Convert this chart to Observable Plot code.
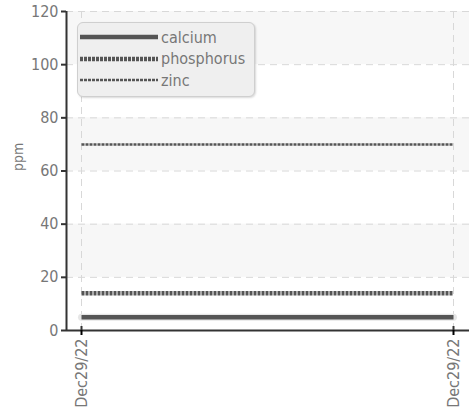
<!DOCTYPE html>
<html><head><meta charset="utf-8">
<script src="https://cdn.jsdelivr.net/npm/d3@7"></script>
<script src="https://cdn.jsdelivr.net/npm/@observablehq/plot@0.6"></script>
<style>
body{margin:0;background:#fff;}
#wrap{position:relative;width:476px;height:409px;font-family:"Liberation Sans Narrow","DejaVu Sans Condensed",sans-serif;}
#legend{position:absolute;left:77px;top:22px;width:176px;height:73px;background:#efefef;border:1px solid #cfcfcf;border-radius:6px;box-shadow:1px 1px 2px rgba(0,0,0,0.15);}
.item{position:absolute;left:2px;height:20px;display:flex;align-items:center;font-size:16px;color:#777;}
.item svg{margin-right:3px;}
</style></head><body>
<div id="wrap"></div>
<script>
const dates = [new Date("2022-12-29T00:00:00Z"), new Date("2022-12-29T12:00:00Z")];
const seriesNames = ["calcium", "phosphorus", "zinc"];
const calcium = [5, 5];
const phosphorus = [14, 14];
const zinc = [70, 70];
const yTicks = [0, 20, 40, 60, 80, 100, 120];
const bands = [[20, 40], [60, 80], [100, 120]];
const yLabel = "ppm";

const styles = {
  calcium: {strokeWidth: 4.5, dash: null},
  phosphorus: {strokeWidth: 4.5, dash: "3,1"},
  zinc: {strokeWidth: 2.5, dash: "3,1"}
};
const values = {calcium, phosphorus, zinc};
const rows = seriesNames.flatMap(s => dates.map((d, i) => ({series: s, date: d, value: values[s][i]})));

const span = dates[1] - dates[0];
const domain = [new Date(+dates[0] - span * 15 / 372), new Date(+dates[1] + span * 16 / 372)];
const fmt = d3.utcFormat("%b%d/%y");
const font = '"Liberation Sans Narrow","DejaVu Sans Condensed",sans-serif';

const marks = [
  Plot.rectY(bands, {y1: d => d[0], y2: d => d[1], fill: "#f7f7f7"}),
  Plot.ruleY(yTicks, {stroke: "#d8d8d8", strokeDasharray: "7,5"}),
  Plot.ruleX(dates, {stroke: "#d8d8d8", strokeDasharray: "7,5"}),
  Plot.line(rows.filter(r => r.series === "calcium"), {x: "date", y: "value", stroke: "#e6e6e6", strokeWidth: 7}),
  ...seriesNames.map(s => Plot.line(rows.filter(r => r.series === s), {
    x: "date", y: "value", stroke: "#555", strokeWidth: styles[s].strokeWidth,
    strokeDasharray: styles[s].dash, strokeLinecap: "butt"
  })),
  Plot.ruleY([0], {stroke: "#333", strokeWidth: 2}),
  Plot.ruleX([domain[0]], {stroke: "#333", strokeWidth: 2}),
  Plot.ruleX(dates, {y1: 0, y2: 1.5, stroke: "#333", strokeWidth: 2}),
  Plot.axisY({ticks: yTicks, tickSize: 5, tickPadding: 3, label: null, fontSize: 16, fill: "#777", stroke: "#333", strokeWidth: 2}),
  Plot.axisX({ticks: dates, tickFormat: fmt, tickRotate: -90, tickSize: 5, tickPadding: 3, label: null, fontSize: 16, fill: "#777", strokeWidth: 2}),
  Plot.text([yLabel], {text: d => d, frameAnchor: "left", dx: -48, rotate: -90, fontSize: 14, fill: "#777"})
];

const chart = Plot.plot({
  width: 476, height: 409,
  marginLeft: 66, marginRight: 7, marginTop: 11, marginBottom: 79,
  style: {fontFamily: font, background: "transparent"},
  x: {type: "utc", domain},
  y: {domain: [0, 120]},
  marks
});
const wrap = document.getElementById("wrap");
wrap.appendChild(chart);

const legend = document.createElement("div");
legend.id = "legend";
seriesNames.forEach((s, i) => {
  const item = document.createElement("div");
  item.className = "item";
  item.style.top = (4 + i * 21.5) + "px";
  const sw = styles[s];
  item.innerHTML = `<svg width="78" height="8"><line x1="0" x2="78" y1="4" y2="4" stroke="#555" stroke-width="${sw.strokeWidth}" ${sw.dash ? `stroke-dasharray="${sw.dash}"` : ""}/></svg><span>${s}</span>`;
  legend.appendChild(item);
});
wrap.appendChild(legend);
</script>
</body></html>
